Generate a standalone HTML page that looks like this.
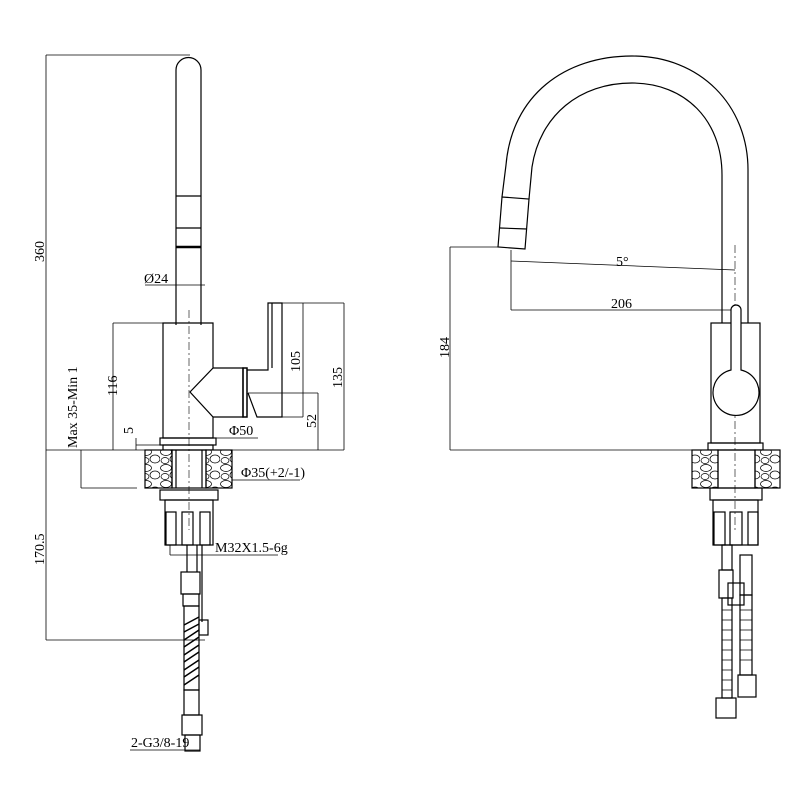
<!DOCTYPE html>
<html><head><style>body{margin:0;background:#fff}svg{display:block}text{font-family:"Liberation Serif",serif;fill:#000}</style></head>
<body>
<svg width="800" height="800" viewBox="0 0 800 800" xmlns="http://www.w3.org/2000/svg">
<defs>
<pattern id="stone" width="20" height="16" patternUnits="userSpaceOnUse">
<rect width="20" height="16" fill="#fff"/>
<ellipse cx="6" cy="4" rx="5.5" ry="3.5" fill="none" stroke="#000" stroke-width="0.7"/>
<ellipse cx="15" cy="11" rx="5" ry="4" fill="none" stroke="#000" stroke-width="0.7"/>
<ellipse cx="5" cy="12.5" rx="4" ry="3" fill="none" stroke="#000" stroke-width="0.7"/>
</pattern>
</defs>
<g fill="none" stroke="#000" stroke-width="1.2">
<!-- LEFT VIEW dims -->
<line x1="46" y1="55" x2="190" y2="55" stroke-width="0.8"/>
<line x1="46" y1="55" x2="46" y2="640" stroke-width="0.8"/>
<line x1="46" y1="640" x2="205" y2="640" stroke-width="0.8"/>
<line x1="46" y1="450" x2="145" y2="450" stroke-width="0.8"/>
<line x1="232" y1="450" x2="344" y2="450" stroke-width="0.8"/>
<line x1="113" y1="323" x2="163" y2="323" stroke-width="0.8"/>
<line x1="113" y1="323" x2="113" y2="450" stroke-width="0.8"/>
<line x1="81" y1="450" x2="81" y2="488" stroke-width="0.8"/>
<line x1="81" y1="488" x2="137" y2="488" stroke-width="0.8"/>
<line x1="136" y1="438" x2="136" y2="450" stroke-width="0.8"/>
<line x1="136" y1="445" x2="163" y2="445" stroke-width="0.8"/>
<line x1="213" y1="438" x2="258" y2="438" stroke-width="0.8"/>
<line x1="206" y1="480" x2="300" y2="480" stroke-width="0.8"/>
<line x1="145" y1="285" x2="205" y2="285" stroke-width="0.8"/>
<line x1="282" y1="303" x2="344" y2="303" stroke-width="0.8"/>
<line x1="344" y1="303" x2="344" y2="450" stroke-width="0.8"/>
<line x1="282" y1="417" x2="303" y2="417" stroke-width="0.8"/>
<line x1="303" y1="303" x2="303" y2="417" stroke-width="0.8"/>
<line x1="248" y1="393" x2="318" y2="393" stroke-width="0.8"/>
<line x1="318" y1="393" x2="318" y2="450" stroke-width="0.8"/>
<line x1="170" y1="545" x2="170" y2="555" stroke-width="0.8"/>
<line x1="170" y1="555" x2="278" y2="555" stroke-width="0.8"/>
<line x1="130" y1="750" x2="200" y2="750" stroke-width="0.8"/>
<line x1="189" y1="310" x2="189" y2="530" stroke-dasharray="8,3,2,3" stroke-width="0.6"/>
<!-- spout -->
<path d="M176 325 V70 A12.5 12.5 0 0 1 201 70 V325"/>
<line x1="176" y1="196" x2="201" y2="196"/>
<line x1="176" y1="228" x2="201" y2="228"/>
<line x1="176" y1="247" x2="201" y2="247" stroke-width="2.5"/>
<!-- body -->
<path d="M163 323 H213 V368 L190 392 L213 417 V438 H163 Z"/>
<rect x="160" y="438" width="56" height="7"/>
<rect x="163" y="445" width="50" height="5"/>
<path d="M213 368 H243 V417 H213"/>
<rect x="243" y="368" width="4" height="49" stroke-width="1.5"/>
<path d="M247 370 H268 V303 H282 V417 H257 L248 393"/>
<line x1="272" y1="303" x2="272" y2="368"/>
<!-- granite -->
<rect x="145" y="450" width="27" height="38" fill="url(#stone)"/>
<rect x="206" y="450" width="26" height="38" fill="url(#stone)"/>
<rect x="172" y="450" width="34" height="38"/>
<line x1="176" y1="450" x2="176" y2="488"/><line x1="202" y1="450" x2="202" y2="488"/>
<rect x="160" y="490" width="58" height="10"/>
<rect x="165" y="500" width="48" height="45"/>
<rect x="166" y="512" width="10" height="33"/><rect x="182" y="512" width="11" height="33"/><rect x="200" y="512" width="10" height="33"/>
<!-- hose -->
<line x1="187" y1="545" x2="187" y2="572"/><line x1="197" y1="545" x2="197" y2="572"/>
<line x1="202" y1="545" x2="202" y2="622"/>
<rect x="181" y="572" width="19" height="22"/>
<rect x="183" y="594" width="16" height="12"/>
<rect x="184" y="606" width="15" height="84"/>
<path d="M184 625 L199 617 M184 640 L199 630 M184 655 L199 645 M184 670 L199 660 M184 685 L199 675 M184 632 L199 624 M184 647 L199 637 M184 662 L199 652 M184 677 L199 667" stroke-width="1.5"/>
<rect x="199" y="620" width="9" height="15"/>
<rect x="184" y="690" width="15" height="25"/>
<rect x="182" y="715" width="20" height="20"/>
<rect x="185" y="735" width="15" height="16"/>
</g>
<g font-size="14">
<text transform="translate(44,262) rotate(-90)">360</text>
<text x="144" y="283">Ø24</text>
<text transform="translate(117,396) rotate(-90)">116</text>
<text transform="translate(77,448) rotate(-90)">Max 35-Min 1</text>
<text transform="translate(133,434) rotate(-90)">5</text>
<text x="229" y="435">Φ50</text>
<text x="241" y="477">Φ35(+2/-1)</text>
<text transform="translate(300,372) rotate(-90)">105</text>
<text transform="translate(342,388) rotate(-90)">135</text>
<text transform="translate(316,428) rotate(-90)">52</text>
<text transform="translate(44,565) rotate(-90)">170.5</text>
<text x="215" y="552">M32X1.5-6g</text>
<text x="131" y="747">2-G3/8-19</text>
</g>
<!-- RIGHT VIEW -->
<g fill="none" stroke="#000" stroke-width="1.2">
<line x1="450" y1="247" x2="500" y2="247" stroke-width="0.8"/>
<line x1="450" y1="247" x2="450" y2="450" stroke-width="0.8"/>
<line x1="450" y1="450" x2="692" y2="450" stroke-width="0.8"/>
<line x1="511" y1="250" x2="511" y2="310" stroke-width="0.8"/>
<line x1="511" y1="261" x2="735" y2="270" stroke-width="0.8"/>
<line x1="511" y1="310" x2="735" y2="310" stroke-width="0.8"/>
<line x1="735" y1="245" x2="735" y2="530" stroke-dasharray="8,3,2,3" stroke-width="0.6"/>
<path d="M502 197 L506 165 C512 95 565 56 632 56 C700 56 748 105 748 170 V323"/>
<path d="M529 199 L532 167 C540 115 580 83 632 83 C685 83 722 120 722 175 V323"/>
<path d="M502 197 L498 247 L525 249 L529 199 Z"/>
<line x1="500" y1="228" x2="527" y2="229"/>
<rect x="711" y="323" width="49" height="120"/>
<path d="M731 370 V310 A5 5 0 0 1 741 310 V370 A23 23 0 1 1 731 370 Z" fill="#fff"/>
<rect x="708" y="443" width="55" height="7"/>
<rect x="692" y="450" width="26" height="38" fill="url(#stone)"/>
<rect x="755" y="450" width="25" height="38" fill="url(#stone)"/>
<rect x="718" y="450" width="37" height="38"/>
<rect x="710" y="488" width="52" height="12"/>
<rect x="713" y="500" width="45" height="45"/>
<rect x="714" y="512" width="11" height="33"/><rect x="730" y="512" width="12" height="33"/><rect x="748" y="512" width="10" height="33"/>
<rect x="722" y="545" width="10" height="25"/>
<rect x="719" y="570" width="14" height="28"/>
<rect x="740" y="555" width="12" height="40"/>
<rect x="722" y="598" width="10" height="100"/>
<rect x="740" y="595" width="12" height="80"/>
<rect x="728" y="583" width="16" height="22"/>
<path d="M722 610 h10 M722 620 h10 M722 630 h10 M722 640 h10 M722 650 h10 M722 660 h10 M722 670 h10 M722 680 h10 M722 690 h10 M740 610 h12 M740 620 h12 M740 630 h12 M740 640 h12 M740 650 h12 M740 660 h12" stroke-width="0.8"/>
<rect x="738" y="675" width="18" height="22"/>
<rect x="716" y="698" width="20" height="20"/>
</g>
<g font-size="14">
<text transform="translate(449,358) rotate(-90)">184</text>
<text x="616" y="266">5°</text>
<text x="611" y="308">206</text>
</g>
</svg>
</body></html>
